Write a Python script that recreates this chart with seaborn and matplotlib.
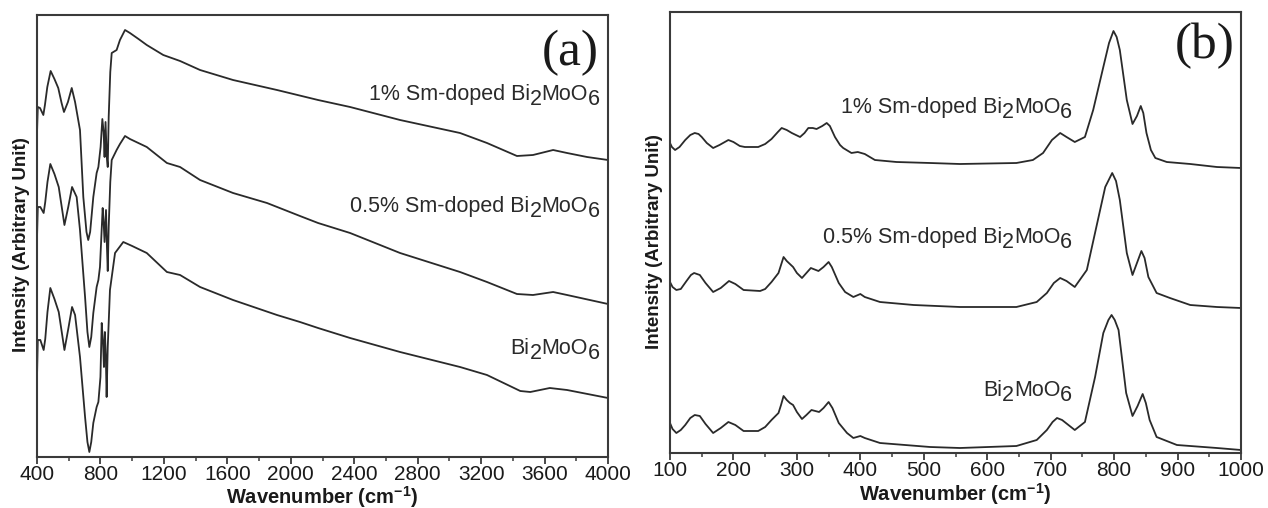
import numpy as np
import pandas as pd
import matplotlib
matplotlib.use("Agg")
import matplotlib.pyplot as plt
import seaborn as sns
from matplotlib.ticker import MultipleLocator

# ---------------- data: panel (a) FTIR ----------------
ftir_x_1pct = [400, 405, 419, 440, 450, 465, 486, 510, 534, 555, 570, 595, 619, 640, 671, 692, 712,
               723, 735, 755, 776, 787, 801, 812, 820, 826, 832, 840, 846, 852, 862, 871, 902, 923,
               955, 986, 1040, 1092, 1196, 1302, 1428, 1636, 1913, 2172, 2374, 2689, 3067, 3237,
               3426, 3527, 3654, 3742, 3868, 4000]
ftir_y_1pct = [324, 350, 349, 342, 352, 370, 386, 378, 369, 354, 345, 355, 369, 355, 327, 260, 225,
               217, 225, 260, 284, 290, 310, 338, 325, 300, 335, 300, 290, 340, 385, 404, 407, 417,
               427, 424, 418, 412, 402, 396, 387, 377, 367, 357, 350, 337, 324, 314,
               301, 302, 307, 304, 300, 297]

ftir_x_05pct = [400, 405, 421, 442, 452, 466, 484, 510, 537, 556, 573, 597, 621, 650, 671, 703, 718,
                730, 742, 755, 776, 787, 797, 814, 820, 826, 835, 841, 846, 852, 862, 871, 902, 923,
                955, 986, 1092, 1219, 1302, 1428, 1636, 1850, 2058, 2172, 2374, 2689, 3067, 3237,
                3426, 3527, 3654, 3742, 4000]
ftir_y_05pct = [219, 250, 250, 244, 255, 275, 293, 283, 270, 250, 232, 250, 270, 260, 227, 160, 125,
                110, 120, 144, 170, 177, 190, 249, 235, 215, 247, 210, 186, 230, 275, 297, 307, 313,
                321, 318, 310, 294, 290, 277, 264, 254, 241, 234, 224, 204, 185, 175,
                163, 162, 165, 162, 153]

ftir_x_pure = [400, 405, 421, 442, 452, 466, 484, 510, 537, 556, 573, 597, 621, 640, 671, 703, 718,
               730, 742, 755, 776, 787, 800, 808, 816, 822, 828, 834, 839, 846, 860, 892, 944,
               1000, 1092, 1219, 1302, 1428, 1636, 1913, 2058, 2172, 2374, 2689, 3067, 3237,
               3447, 3510, 3633, 3742, 4000]
ftir_y_pure = [80, 117, 117, 107, 118, 145, 169, 158, 145, 125, 107, 128, 150, 142, 100, 40, 15,
               5, 15, 34, 50, 55, 80, 134, 115, 90, 125, 100, 60, 110, 167, 204, 215,
               211, 204, 185, 182, 170, 157, 142, 135, 129, 119, 105, 90, 82,
               66, 65, 69, 67, 59]

# ---------------- data: panel (b) Raman ----------------
raman_x_1pct = [100, 103, 108, 115, 124, 132, 139, 145, 150, 158, 168, 178, 192, 200, 210, 218, 239,
                250, 260, 270, 276, 284, 292, 305, 312, 318, 325, 331, 340, 347, 352, 360, 368, 373,
                386, 396, 407, 423, 457, 510, 557, 646, 672, 688, 702, 715, 725, 738, 754, 767, 783,
                792, 799, 804, 809, 820, 829, 836, 842, 846, 851, 858, 865, 883, 920, 962, 1000]
raman_y_1pct = [310, 306, 303, 306, 313, 318, 320, 319, 316, 310, 305, 308, 313, 311, 307, 306, 306,
                309, 314, 321, 325, 323, 320, 316, 320, 325, 325, 324, 327, 330, 327, 316, 308, 305,
                300, 301, 299, 293, 291, 290, 289, 290, 293, 300, 313, 320, 316, 311, 316, 343, 386,
                410, 422, 416, 403, 353, 329, 337, 347, 340, 320, 303, 295, 291, 289, 286, 285]

raman_x_05pct = [100, 104, 110, 117, 126, 133, 138, 147, 156, 168, 180, 193, 203, 216, 242, 250, 260,
                 271, 275, 279, 284, 289, 294, 300, 308, 315, 322, 334, 342, 350, 355, 366, 376, 389,
                 400, 407, 431, 484, 557, 646, 678, 694, 705, 715, 725, 738, 757, 772, 786, 797, 803,
                 809, 820, 829, 836, 843, 848, 854, 867, 888, 920, 962, 1000]
raman_y_05pct = [171, 166, 163, 164, 172, 178, 180, 178, 170, 161, 165, 172, 169, 163, 162, 164, 171,
                 180, 188, 196, 192, 189, 186, 180, 175, 180, 185, 182, 186, 191, 186, 170, 161, 156,
                 159, 156, 151, 148, 146, 146, 151, 160, 170, 175, 172, 166, 183, 226, 266, 280, 272,
                 253, 200, 178, 190, 202, 195, 176, 160, 155, 148, 146, 145]

raman_x_pure = [100, 104, 110, 117, 124, 132, 139, 147, 156, 168, 180, 192, 203, 216, 239, 250, 260,
                271, 275, 279, 284, 289, 294, 300, 308, 315, 323, 335, 342, 350, 356, 366, 379, 389,
                400, 407, 431, 510, 557, 646, 678, 694, 703, 710, 718, 738, 754, 770, 783, 791, 796,
                801, 807, 819, 829, 837, 845, 850, 856, 867, 899, 962, 1000]
raman_y_pure = [30, 24, 20, 23, 28, 35, 38, 37, 29, 20, 25, 31, 28, 22, 22, 26, 33,
                40, 48, 57, 53, 50, 48, 41, 34, 38, 43, 41, 45, 51, 45, 30, 20, 15,
                17, 15, 10, 6, 5, 7, 13, 23, 31, 35, 33, 23, 31, 76, 120, 133, 138,
                133, 123, 60, 37, 47, 59, 50, 33, 16, 8, 5, 3]

series_names = ["1% Sm-doped Bi2MoO6", "0.5% Sm-doped Bi2MoO6", "Bi2MoO6"]
# label pieces: (text, lowered?) -- subscripts in the original are full-size, lowered digits
label_parts = [
    [("1% Sm-doped Bi", False), ("2", True), ("MoO", False), ("6", True)],
    [("0.5% Sm-doped Bi", False), ("2", True), ("MoO", False), ("6", True)],
    [("Bi", False), ("2", True), ("MoO", False), ("6", True)],
]
panel_tags = ["(a)", "(b)"]

# ---------------- style ----------------
sns.set_theme(style="white")
plt.rcParams["font.family"] = ["Liberation Sans", "DejaVu Sans"]
plt.rcParams["mathtext.fontset"] = "custom"
plt.rcParams["mathtext.rm"] = "Liberation Sans"
plt.rcParams["mathtext.it"] = "Liberation Sans:italic"
plt.rcParams["mathtext.bf"] = "Liberation Sans:bold"

line_col = "#2a2a2a"
spine_col = "#3a3a3a"
text_col = "#2a2a2a"

fig = plt.figure(figsize=(12.68, 5.08), dpi=100)
axA = fig.add_axes([37 / 1268, (508 - 457) / 508, 571 / 1268, 442 / 508])
axB = fig.add_axes([670 / 1268, (508 - 453) / 508, 571 / 1268, 441 / 508])


def long_df(xs, ys, name):
    return pd.DataFrame({"x": xs, "y": ys, "series": name})


dfA = pd.concat([long_df(ftir_x_1pct, ftir_y_1pct, series_names[0]),
                 long_df(ftir_x_05pct, ftir_y_05pct, series_names[1]),
                 long_df(ftir_x_pure, ftir_y_pure, series_names[2])])
dfB = pd.concat([long_df(raman_x_1pct, raman_y_1pct, series_names[0]),
                 long_df(raman_x_05pct, raman_y_05pct, series_names[1]),
                 long_df(raman_x_pure, raman_y_pure, series_names[2])])

for ax, df in [(axA, dfA), (axB, dfB)]:
    sns.lineplot(data=df, x="x", y="y", hue="series", units="series", estimator=None,
                 sort=False, palette=[line_col] * 3, linewidth=1.3, legend=False, ax=ax)

axA.set_xlim(400, 4000)
axA.set_ylim(0, 442)
axB.set_xlim(100, 1000)
axB.set_ylim(0, 441)

axA.xaxis.set_major_locator(MultipleLocator(400))
axA.xaxis.set_minor_locator(MultipleLocator(200))
axB.xaxis.set_major_locator(MultipleLocator(100))
axB.xaxis.set_minor_locator(MultipleLocator(50))

for ax, lpad in ((axA, 0.0), (axB, 0.5)):
    ax.set_yticks([])
    for s in ax.spines.values():
        s.set_color(spine_col)
        s.set_linewidth(1.5)
        s.set_visible(True)
    ax.tick_params(axis="x", which="major", direction="out", length=5, width=1.3,
                   color=spine_col, labelsize=15, labelcolor="#1a1a1a", pad=1, bottom=True)
    ax.tick_params(axis="x", which="minor", direction="out", length=3, width=1.1,
                   color=spine_col, bottom=True)
    ax.set_xlabel("Wavenumber (cm$^{\\mathbf{-1}}$)", fontsize=14.5, fontweight="bold",
                  labelpad=lpad, color="#1a1a1a")
    ax.set_ylabel("Intensity (Arbitrary Unit)", fontsize=13.5, fontweight="bold",
                  color="#1a1a1a")
    ax.yaxis.set_label_coords(-0.012, 0.48)


def chem_label(ax, x, y, parts, fontsize=15.5, drop=3.8):
    """Draw pieces right-to-left so that the last piece ends at (x, y)."""
    prev, prev_dy = None, 0.0
    for text, low in reversed(parts):
        dy = -drop if low else 0.0
        if prev is None:
            t = ax.annotate(text, xy=(x, y), xycoords="data", xytext=(0, dy),
                            textcoords="offset points", ha="right", va="baseline",
                            fontsize=fontsize, color=text_col)
        else:
            t = ax.annotate(text, xy=(0, 0), xycoords=prev, xytext=(0, dy - prev_dy),
                            textcoords="offset points", ha="right", va="bottom",
                            fontsize=fontsize, color=text_col)
        prev, prev_dy = t, dy


for parts, yv in zip(label_parts, [357, 245, 103]):
    chem_label(axA, 3950, yv, parts)
for parts, yv in zip(label_parts, [340, 210, 57]):
    chem_label(axB, 734, yv, parts)

axA.text(3761, 404, panel_tags[0], ha="center", va="center", fontsize=37,
         family="Liberation Serif", color="#1a1a1a")
axB.text(942, 407, panel_tags[1], ha="center", va="center", fontsize=37,
         family="Liberation Serif", color="#1a1a1a")

fig.savefig("out.png", dpi=100)
